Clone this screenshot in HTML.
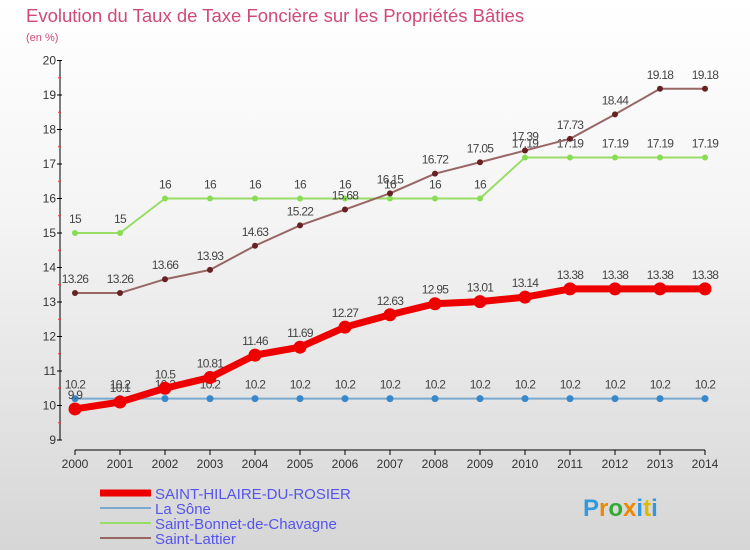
<!DOCTYPE html>
<html><head><meta charset="utf-8"><style>
body{margin:0;width:750px;height:550px;overflow:hidden;font-family:"Liberation Sans",sans-serif;}
#bg{position:absolute;left:0;top:0;width:750px;height:550px;background:linear-gradient(#fff,#f4f4f4 40%,#d6d6d6);}
svg{position:absolute;left:0;top:0}
</style></head><body>
<div id="bg"></div>
<svg id="c" width="750" height="550">
<text x="26" y="22" font-size="18.5" fill="#d04a75">Evolution du Taux de Taxe Foncière sur les Propriétés Bâties</text>
<text x="26" y="41" font-size="11" fill="#d04a75">(en %)</text>
<g id="axes"></g><g id="series"></g>
<g>
<line x1="100" y1="493" x2="151" y2="493" stroke="#e00" stroke-width="7"/>
<text x="155" y="499" font-size="15" fill="#5555ee">SAINT-HILAIRE-DU-ROSIER</text>
<line x1="100" y1="508" x2="151" y2="508" stroke="#7aaad0" stroke-width="2"/>
<text x="155" y="514" font-size="15" fill="#5555ee">La Sône</text>
<line x1="100" y1="523" x2="151" y2="523" stroke="#99dd66" stroke-width="2"/>
<text x="155" y="529" font-size="15" fill="#5555ee">Saint-Bonnet-de-Chavagne</text>
<line x1="100" y1="538" x2="151" y2="538" stroke="#996666" stroke-width="2"/>
<text x="155" y="544" font-size="15" fill="#5555ee">Saint-Lattier</text>
</g>
<text x="583" y="516" font-size="24" font-weight="bold" fill="#3399dd">P<tspan fill="#ee8800">r</tspan><tspan fill="#33aa33">o</tspan><tspan fill="#ee8800">x</tspan><tspan fill="#3399dd">i</tspan><tspan fill="#ddbb00">t</tspan><tspan fill="#3399dd">i</tspan></text>
</svg>
<script>
const years=[2000,2001,2002,2003,2004,2005,2006,2007,2008,2009,2010,2011,2012,2013,2014];
const yTicks=[9,10,11,12,13,14,15,16,17,18,19,20];
const hilaire=[9.9,10.1,10.5,10.81,11.46,11.69,12.27,12.63,12.95,13.01,13.14,13.38,13.38,13.38,13.38];
const sone=[10.2,10.2,10.2,10.2,10.2,10.2,10.2,10.2,10.2,10.2,10.2,10.2,10.2,10.2,10.2];
const bonnet=[15,15,16,16,16,16,16,16,16,16,17.19,17.19,17.19,17.19,17.19];
const lattier=[13.26,13.26,13.66,13.93,14.63,15.22,15.68,16.15,16.72,17.05,17.39,17.73,18.44,19.18,19.18];
const NS="http://www.w3.org/2000/svg";
const X=i=>75+i*45, Y=v=>440-(v-9)*34.5;
function mk(t,a,p){const e=document.createElementNS(NS,t);for(const k in a)e.setAttribute(k,a[k]);p.appendChild(e);return e;}
const ax=document.getElementById('axes');
let l=mk('line',{x1:60,y1:Y(20),x2:60,y2:440,stroke:'#000'},ax);


l=mk('line',{x1:75,y1:450,x2:705,y2:450,stroke:'#000'},ax);


yTicks.forEach(v=>{mk('line',{x1:57,y1:Y(v),x2:62,y2:Y(v),stroke:'#000'},ax);
 if(v<20)mk('line',{x1:58,y1:Y(v+0.5),x2:61,y2:Y(v+0.5),stroke:'#e33'},ax);
 const t=mk('text',{x:56,y:Y(v)+4,'font-size':12,'text-anchor':'end',fill:'#333'},ax);t.textContent=v;
 
 });
years.forEach((y,i)=>{mk('line',{x1:X(i),y1:450,x2:X(i),y2:455,stroke:'#000'},ax);
 const t=mk('text',{x:X(i),y:468,'font-size':12,'text-anchor':'middle',fill:'#333'},ax);t.textContent=y;
 
 });
const sg=document.getElementById('series');
function series(d,name,col,w,r,dcol){
 const g=mk('g',{},sg);
 
 
 mk('polyline',{points:d.map((v,i)=>X(i)+','+Y(v)).join(' '),fill:'none',stroke:col,'stroke-width':w,'stroke-linejoin':'round'},g);
 d.forEach((v,i)=>{const c=mk('circle',{cx:X(i),cy:Y(v),r:r,fill:dcol},g);
  
  
  const t=mk('text',{x:X(i),y:Y(v)-10,'font-size':12,'text-anchor':'middle',fill:'#444','letter-spacing':'-0.7'},g);t.textContent=v;
  
  });
}
series(sone,'la-sone-series','#7aaad0',2,3.5,'#3a88cc');
series(bonnet,'saint-bonnet-series','#99dd66',2,3,'#88dd55');
series(lattier,'saint-lattier-series','#996666',2,3,'#662222');
series(hilaire,'saint-hilaire-series','#e00',7,6.5,'#e00');
</script>
</body></html>
